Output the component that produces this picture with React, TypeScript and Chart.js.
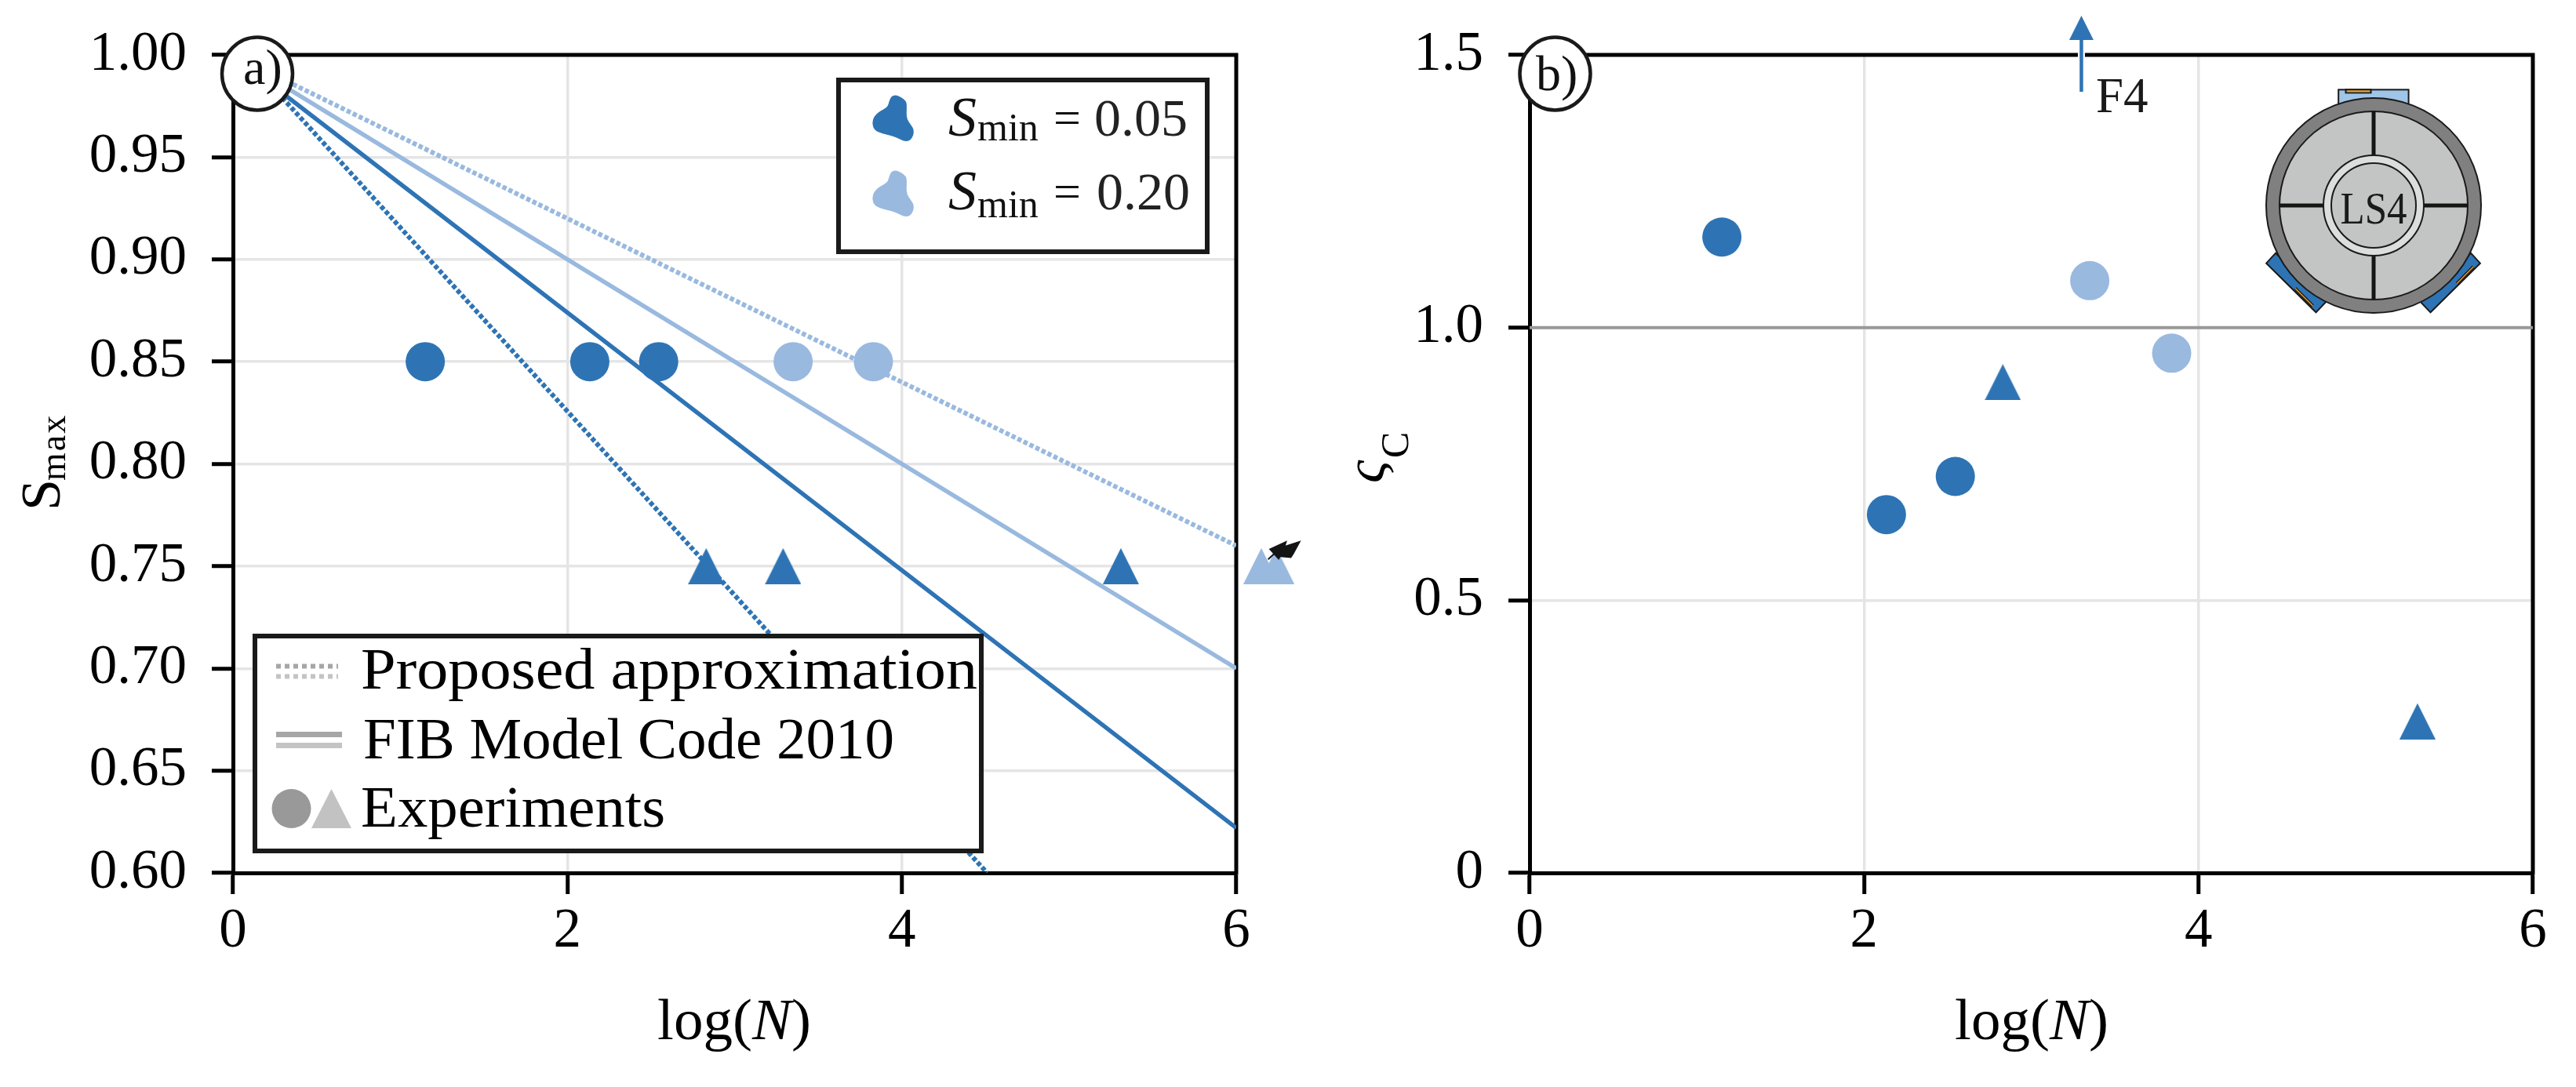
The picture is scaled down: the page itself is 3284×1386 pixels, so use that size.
import React, { useEffect, useRef } from "react";
import { Chart, registerables } from "chart.js";

Chart.register(...registerables);

const DARK = "#2e74b5";
const LIGHT = "#99b9df";
const SERIF = '"Liberation Serif"';

// Panel a)
const fatigueLogN = [0, 6];
const fibDark = [1.0, 0.622];
const fibLight = [1.0, 0.7];
const proposedLight = [1.0, 0.76];
const proposedDarkLogN = [0, 4.51];
const proposedDark = [1.0056, 0.6];

const circlesDarkA_x = [1.15, 2.134, 2.546];
const circlesDarkA_y = [0.85, 0.85, 0.85];
const circlesLightA_x = [3.35, 3.83];
const circlesLightA_y = [0.85, 0.85];
const trianglesDarkA_x = [2.83, 3.29, 5.31];
const trianglesDarkA_y = [0.75, 0.75, 0.75];
const trianglesLightA_x = [6.15, 6.24];
const trianglesLightA_y = [0.75, 0.75];

// Panel b)
const circlesDarkB_x = [1.15, 2.134, 2.546];
const circlesDarkB_y = [1.166, 0.657, 0.727];
const circlesLightB_x = [3.35, 3.84];
const circlesLightB_y = [1.086, 0.953];
const trianglesDarkB_x = [2.83, 5.31];
const trianglesDarkB_y = [0.9, 0.278];
const referenceX = [0, 6];
const referenceY = [1, 1];

const pts = (xs: number[], ys: number[]) => xs.map((x, i) => ({ x, y: ys[i] }));

function triangleImage(color: string, w = 46, h = 46) {
  const c = document.createElement("canvas");
  c.width = w;
  c.height = h;
  const g = c.getContext("2d")!;
  g.fillStyle = color;
  g.beginPath();
  g.moveTo(w / 2, 0);
  g.lineTo(w, h);
  g.lineTo(0, h);
  g.closePath();
  g.fill();
  return c;
}

const markers = (data: any[], color: string, style: any) => ({
  data,
  showLine: false,
  pointStyle: style,
  pointRadius: style === "circle" ? 25 : 23,
  pointBackgroundColor: color,
  pointBorderWidth: 0,
  clip: false as any,
});

const lineDs = (data: any[], color: string, dotted: boolean, width = 5.5) => ({
  data,
  showLine: true,
  borderColor: color,
  borderWidth: dotted ? 6 : width,
  borderDash: dotted ? [5.5, 3] : [],
  pointRadius: 0,
  fill: false,
});

function text(g: CanvasRenderingContext2D, s: string, x: number, y: number, font: string, color = "#000", align: CanvasTextAlign = "left") {
  g.font = font;
  g.fillStyle = color;
  g.textAlign = align;
  g.textBaseline = "alphabetic";
  g.fillText(s, x, y);
}

// text stretched horizontally to a target width (the reference face is wider)
function fitText(g: CanvasRenderingContext2D, s: string, x: number, y: number, width: number, font: string, color = "#000") {
  g.save();
  g.font = font;
  const k = width / g.measureText(s).width;
  g.translate(x, y);
  g.scale(k, 1);
  text(g, s, 0, 0, font, color);
  g.restore();
}

function xTitle(g: CanvasRenderingContext2D, cx: number) {
  const roman = `75px ${SERIF}`;
  const ital = `italic 75px ${SERIF}`;
  g.font = roman;
  const a = g.measureText("log(").width;
  const c = g.measureText(")").width;
  g.font = ital;
  const b = g.measureText("N").width;
  const x0 = cx - (a + b + c) / 2;
  text(g, "log(", x0, 1325, roman);
  text(g, "N", x0 + a, 1325, ital);
  text(g, ")", x0 + a + b, 1325, roman);
}

function badge(g: CanvasRenderingContext2D, cx: number, label: string, tx: number, ty: number) {
  g.beginPath();
  g.ellipse(cx, 94, 45, 46.5, 0, 0, Math.PI * 2);
  g.fillStyle = "#fff";
  g.fill();
  g.lineWidth = 4.5;
  g.strokeStyle = "#1a1a1a";
  g.stroke();
  text(g, label, tx, ty, `64px ${SERIF}`, "#111");
}

function frame(g: CanvasRenderingContext2D, area: any) {
  g.save();
  g.strokeStyle = "#000";
  g.lineWidth = 5;
  g.beginPath();
  g.moveTo(area.left - 2.5, area.top);
  g.lineTo(area.right, area.top);
  g.lineTo(area.right, area.bottom + 2.5);
  g.stroke();
  g.restore();
}

const blob = [
  [268, 366], [280, 364], [292, 372], [303, 385], [306, 400], [305, 430], [306, 455], [316, 478], [324, 495],
  [322, 520], [314, 538], [302, 541], [290, 534], [268, 518], [245, 512], [224, 498], [219, 470],
  [224, 445], [238, 425], [258, 410], [262, 385],
];

function drawBlob(g: CanvasRenderingContext2D, color: string, dy: number) {
  const P = blob.map(([zx, zy]) => [1000 + zx / 1.96, zy / 3 + dy]);
  g.beginPath();
  const n = P.length;
  g.moveTo((P[n - 1][0] + P[0][0]) / 2, (P[n - 1][1] + P[0][1]) / 2);
  for (let i = 0; i < n; i++) {
    const q = P[(i + 1) % n];
    g.quadraticCurveTo(P[i][0], P[i][1], (P[i][0] + q[0]) / 2, (P[i][1] + q[1]) / 2);
  }
  g.closePath();
  g.fillStyle = color;
  g.fill();
}

function box(g: CanvasRenderingContext2D, x0: number, y0: number, x1: number, y1: number) {
  g.fillStyle = "#fff";
  g.fillRect(x0, y0, x1 - x0, y1 - y0);
  g.strokeStyle = "#1a1a1a";
  g.lineWidth = 6;
  g.strokeRect(x0 + 3, y0 + 3, x1 - x0 - 6, y1 - y0 - 6);
}

function sminEntry(g: CanvasRenderingContext2D, value: string, base: number, subBase: number, vx: number) {
  text(g, "S", 1209, base, `italic 72px ${SERIF}`, "#111");
  text(g, "min", 1246, subBase, `50px ${SERIF}`, "#111");
  text(g, "=", 1343, base - 2, `62px ${SERIF}`, "#111");
  text(g, value, vx, base, `68px ${SERIF}`, "#222");
}

let triLightImg: HTMLCanvasElement | null = null;

const panelA = {
  id: "panelA",
  beforeDatasetsDraw(chart: any) {
    frame(chart.ctx, chart.chartArea);
  },
  afterDatasetsDraw(chart: any) {
    const g: CanvasRenderingContext2D = chart.ctx;
    // these two runouts lie beyond the axis maximum, where Chart.js elements are culled
    trianglesLightA_x.forEach((v, i) => {
      const px = chart.scales.x.getPixelForValue(v);
      const py = chart.scales.y.getPixelForValue(trianglesLightA_y[i]);
      if (triLightImg) g.drawImage(triLightImg, px - 23, py - 23);
    });
  },
  afterDraw(chart: any) {
    const g: CanvasRenderingContext2D = chart.ctx;
    g.save();
    // runout arrows on the light triangles
    const ax = chart.scales.x.getPixelForValue(trianglesLightA_x[0]);
    const ay = chart.scales.y.getPixelForValue(trianglesLightA_y[0]);
    const Z = (zx: number, zy: number) => [ax - 1608.7 + 1500 + zx / 3, ay - 722 + 660 + zy / 3];
    g.fillStyle = "#141414";
    g.strokeStyle = "#141414";
    g.lineWidth = 2;
    const poly = (list: number[][]) => {
      g.beginPath();
      list.forEach(([a, b], i) => {
        const [px, py] = Z(a, b);
        if (i) g.lineTo(px, py);
        else g.moveTo(px, py);
      });
      g.closePath();
      g.fill();
    };
    poly([[425, 88], [355, 120], [393, 162], [415, 120]]);
    poly([[478, 88], [415, 108], [390, 150], [440, 155], [450, 140]]);
    g.beginPath();
    g.moveTo(...(Z(352, 160) as [number, number]));
    g.lineTo(...(Z(378, 136) as [number, number]));
    g.stroke();

    // series legend
    box(g, 1066, 99, 1542, 324);
    drawBlob(g, DARK, 0);
    drawBlob(g, LIGHT, 96);
    sminEntry(g, "0.05", 173, 179, 1395);
    sminEntry(g, "0.20", 267, 277, 1398);

    // style legend
    box(g, 322, 808, 1254, 1088);
    g.lineWidth = 6;
    g.setLineDash([6, 5]);
    g.strokeStyle = "#a6a6a6";
    g.beginPath(); g.moveTo(352, 849.5); g.lineTo(431, 849.5); g.stroke();
    g.strokeStyle = "#c4c4c4";
    g.beginPath(); g.moveTo(352, 862.5); g.lineTo(431, 862.5); g.stroke();
    g.setLineDash([]);
    g.lineWidth = 7;
    g.strokeStyle = "#a6a6a6";
    g.beginPath(); g.moveTo(352, 936.5); g.lineTo(436, 936.5); g.stroke();
    g.strokeStyle = "#c4c4c4";
    g.beginPath(); g.moveTo(352, 950.5); g.lineTo(436, 950.5); g.stroke();
    g.fillStyle = "#999";
    g.beginPath(); g.arc(371.5, 1031, 25, 0, Math.PI * 2); g.fill();
    g.fillStyle = "#c2c2c2";
    g.beginPath(); g.moveTo(422.5, 1006); g.lineTo(448, 1056); g.lineTo(397, 1056); g.closePath(); g.fill();
    const lf = `73px ${SERIF}`;
    fitText(g, "Proposed approximation", 460, 878, 786, lf);
    fitText(g, "FIB Model Code 2010", 463, 967, 677, lf);
    fitText(g, "Experiments", 460, 1054, 388, lf);

    // axis titles
    xTitle(g, 936);
    g.save();
    g.translate(76, 651);
    g.rotate(-Math.PI / 2);
    text(g, "S", 0, 0, `72px ${SERIF}`);
    g.restore();
    g.save();
    g.translate(83, 613);
    g.rotate(-Math.PI / 2);
    (g as any).letterSpacing = "2px";
    text(g, "max", 0, 0, `46px ${SERIF}`);
    (g as any).letterSpacing = "0px";
    g.restore();

    badge(g, 328, "a)", 310, 107);
    g.restore();
  },
};

const panelB = {
  id: "panelB",
  beforeDatasetsDraw(chart: any) {
    frame(chart.ctx, chart.chartArea);
  },
  afterDraw(chart: any) {
    const g: CanvasRenderingContext2D = chart.ctx;
    const O = 1680; // canvas left edge in page pixels
    g.save();
    g.translate(-O, 0);

    // F4 arrow
    const fx = chart.scales.x.getPixelForValue(3.3) + O;
    g.strokeStyle = "#fff";
    g.lineWidth = 9;
    g.beginPath(); g.moveTo(fx, 60); g.lineTo(fx, 80); g.stroke();
    g.strokeStyle = DARK;
    g.lineWidth = 4.5;
    g.beginPath(); g.moveTo(fx, 117); g.lineTo(fx, 48); g.stroke();
    g.fillStyle = DARK;
    g.beginPath(); g.moveTo(fx, 20); g.lineTo(fx + 15.5, 51); g.lineTo(fx - 15.5, 51); g.closePath(); g.fill();
    text(g, "F4", 2672, 143, `63px ${SERIF}`, "#1a1a1a");

    // LS4 inset
    const cx = 3026, cy = 262;
    const Zx = (z: number) => 2700 + z / 2.685;
    const Zy = (z: number) => z / 3;
    g.lineWidth = 2;
    g.strokeStyle = "#1a1a1a";
    g.fillStyle = "#9fc5e8";
    g.fillRect(Zx(755), Zy(343), Zx(995) - Zx(755), 30);
    g.strokeRect(Zx(755), Zy(343), Zx(995) - Zx(755), 30);
    g.fillStyle = "#f39c12";
    g.strokeRect(Zx(780), Zy(343), Zx(866) - Zx(780), 4);
    g.fillRect(Zx(785), Zy(346), Zx(862) - Zx(785), 2);
    g.fillStyle = DARK;
    const sensors = [
      [[508, 1007], [678, 1195], [712, 1155], [540, 968]],
      [[1240, 1007], [1070, 1195], [1036, 1155], [1208, 968]],
    ];
    sensors.forEach((s) => {
      g.beginPath();
      s.forEach(([a, b], i) => (i ? g.lineTo(Zx(a), Zy(b)) : g.moveTo(Zx(a), Zy(b))));
      g.closePath();
      g.fill();
      g.stroke();
    });
    const strips = [[[607, 1103], [667, 1170]], [[1160, 1085], [1217, 1020]]];
    strips.forEach(([a, b]) => {
      g.strokeStyle = "#1a1a1a";
      g.lineWidth = 4;
      g.beginPath(); g.moveTo(Zx(a[0]), Zy(a[1])); g.lineTo(Zx(b[0]), Zy(b[1])); g.stroke();
      g.strokeStyle = "#f39c12";
      g.lineWidth = 1.5;
      g.beginPath(); g.moveTo(Zx(a[0]), Zy(a[1])); g.lineTo(Zx(b[0]), Zy(b[1])); g.stroke();
    });
    const disc = (r: number, fill: string, lw = 2) => {
      g.beginPath();
      g.arc(cx, cy, r, 0, Math.PI * 2);
      g.fillStyle = fill;
      g.fill();
      g.lineWidth = lw;
      g.strokeStyle = "#1a1a1a";
      g.stroke();
    };
    disc(137, "#808080");
    disc(120, "#c3c5c4");
    g.strokeStyle = "#141614";
    g.lineWidth = 5;
    g.beginPath();
    g.moveTo(cx, cy - 120); g.lineTo(cx, cy + 120);
    g.moveTo(cx - 120, cy); g.lineTo(cx + 120, cy);
    g.stroke();
    disc(64, "#dcdedd");
    disc(54, "#c3c5c4");
    fitText(g, "LS4", cx - 42.5, 285, 85, `56px ${SERIF}`, "#1a1a1a");

    // axis titles
    xTitle(g, 2590);
    g.save();
    g.translate(1764, 616);
    g.rotate(-Math.PI / 2);
    text(g, "ς", 0, 0, `italic 72px ${SERIF}`);
    g.restore();
    g.save();
    g.translate(1795, 584);
    g.rotate(-Math.PI / 2);
    text(g, "C", 0, 0, `50px ${SERIF}`);
    g.restore();

    badge(g, 1982.5, "b)", 1958, 115);
    g.restore();
  },
};

function axes(yMin: number, yMax: number, yStep: number, yFmt: (v: number) => string, yWidth: number) {
  const tickFont = { family: SERIF, size: 71 };
  return {
    x: {
      type: "linear",
      min: 0,
      max: 6,
      afterFit: (s: any) => { s.height = 273; s.paddingLeft = 0; s.paddingRight = 0; },
      ticks: { stepSize: 2, color: "#000", font: tickFont, padding: 6, maxRotation: 0, callback: (v: any) => String(v) },
      grid: { color: "#e5e5e5", lineWidth: 3.5, tickColor: "#000", tickLength: 27, tickWidth: 5 },
      border: { display: true, color: "#000", width: 5 },
    },
    y: {
      type: "linear",
      min: yMin,
      max: yMax,
      afterFit: (s: any) => { s.width = yWidth; s.paddingTop = 0; s.paddingBottom = 0; },
      ticks: { stepSize: yStep, color: "#000", font: tickFont, padding: 32, autoSkip: false, callback: (v: any) => yFmt(Number(v)) },
      grid: { color: "#e5e5e5", lineWidth: 3.5, tickColor: "#000", tickLength: 27, tickWidth: 5 },
      border: { display: true, color: "#000", width: 5 },
    },
  };
}

export default function App() {
  const a = useRef<HTMLCanvasElement>(null);
  const b = useRef<HTMLCanvasElement>(null);

  useEffect(() => {
    const triDark = triangleImage(DARK);
    triLightImg = triangleImage(LIGHT);
    const base = {
      animation: false,
      responsive: false,
      devicePixelRatio: 1,
      plugins: { legend: { display: false }, title: { display: false }, tooltip: { enabled: false } },
    };
    const ca = new Chart(a.current!, {
      type: "scatter",
      data: {
        datasets: [
          markers(pts(trianglesDarkA_x, trianglesDarkA_y), DARK, triDark),
          markers(pts(circlesLightA_x, circlesLightA_y), LIGHT, "circle"),
          markers(pts(circlesDarkA_x, circlesDarkA_y), DARK, "circle"),
          lineDs(pts(fatigueLogN, proposedLight), LIGHT, true),
          lineDs(pts(fatigueLogN, fibLight), LIGHT, false),
          lineDs(pts(fatigueLogN, fibDark), DARK, false),
          lineDs(pts(proposedDarkLogN, proposedDark), DARK, true),
        ],
      },
      options: {
        ...base,
        layout: { padding: { top: 70, right: 104, bottom: 0, left: 0 } },
        scales: axes(0.6, 1, 0.05, (v) => v.toFixed(2), 297),
      } as any,
      plugins: [panelA],
    } as any);
    const cb = new Chart(b.current!, {
      type: "scatter",
      data: {
        datasets: [
          markers(pts(trianglesDarkB_x, trianglesDarkB_y), DARK, triDark),
          markers(pts(circlesLightB_x, circlesLightB_y), LIGHT, "circle"),
          markers(pts(circlesDarkB_x, circlesDarkB_y), DARK, "circle"),
          lineDs(pts(referenceX, referenceY), "#999999", false, 4),
        ],
      },
      options: {
        ...base,
        layout: { padding: { top: 70, right: 55, bottom: 0, left: 0 } },
        scales: axes(0, 1.5, 0.5, (v) => (v === 0 ? "0" : v.toFixed(1)), 270),
      } as any,
      plugins: [panelB],
    } as any);
    return () => {
      ca.destroy();
      cb.destroy();
    };
  }, []);

  return (
    <div style={{ position: "absolute", left: 0, top: 0, width: 3284, height: 1386, overflow: "hidden", background: "#fff" }}>
      <canvas ref={a} width={1680} height={1386} style={{ position: "absolute", left: 0, top: 0 }} />
      <canvas ref={b} width={1604} height={1386} style={{ position: "absolute", left: 1680, top: 0 }} />
    </div>
  );
}
